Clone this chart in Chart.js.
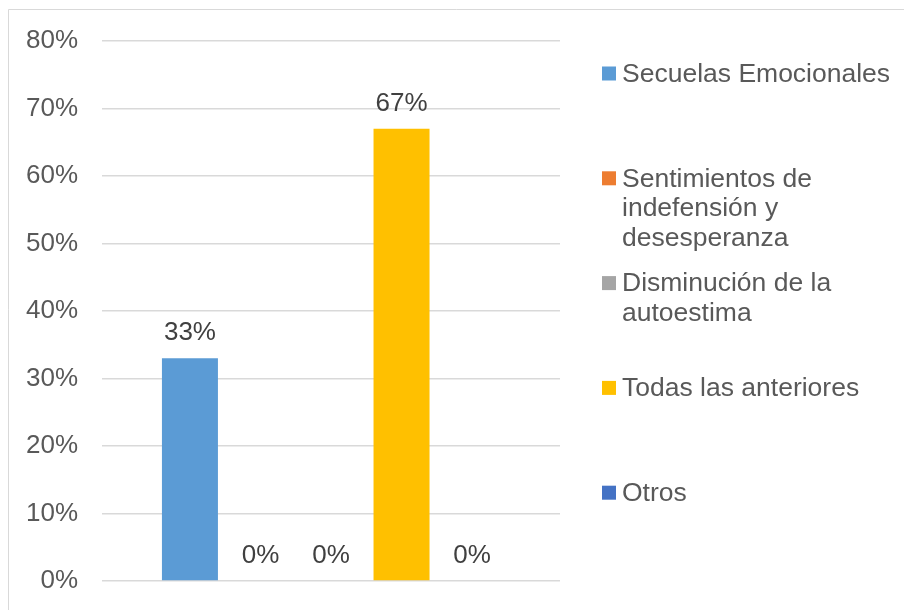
<!DOCTYPE html>
<html>
<head>
<meta charset="utf-8">
<script src="https://cdn.jsdelivr.net/npm/chart.js@4/dist/chart.umd.min.js"></script>
<style>
html,body{margin:0;padding:0;background:#fff;overflow:hidden;}
canvas{display:block;}
</style>
</head>
<body>
<canvas id="c" width="904" height="610"></canvas>
<script>
const categories = [""];
const seriesNames = ["Secuelas Emocionales", "Sentimientos de indefensión y desesperanza", "Disminución de la autoestima", "Todas las anteriores", "Otros"];
const legendLines = [["Secuelas Emocionales"], ["Sentimientos de", "indefensión y", "desesperanza"], ["Disminución de la", "autoestima"], ["Todas las anteriores"], ["Otros"]];
const seriesValues = [33, 0, 0, 67, 0];
const seriesColors = ["#5B9BD5", "#ED7D31", "#A5A5A5", "#FFC000", "#4472C4"];
const yTicks = [0, 10, 20, 30, 40, 50, 60, 70, 80];

const FONT = "'Liberation Sans', Arial, sans-serif";

const frame = {
  id: 'frame',
  beforeDraw(chart) {
    const ctx = chart.ctx;
    ctx.save();
    ctx.fillStyle = '#fff';
    ctx.fillRect(0, 0, chart.width, chart.height);
    ctx.strokeStyle = '#d9d9d9';
    ctx.lineWidth = 1;
    ctx.beginPath();
    ctx.moveTo(8.5, chart.height);
    ctx.lineTo(8.5, 9.5);
    ctx.lineTo(chart.width, 9.5);
    ctx.stroke();
    ctx.restore();
  }
};

const valueLabels = {
  id: 'valueLabels',
  afterDatasetsDraw(chart) {
    const ctx = chart.ctx;
    ctx.save();
    ctx.font = "26px " + FONT;
    ctx.fillStyle = '#404040';
    ctx.textAlign = 'center';
    ctx.textBaseline = 'middle';
    chart.data.datasets.forEach((ds, i) => {
      const meta = chart.getDatasetMeta(i);
      meta.data.forEach((bar, j) => {
        ctx.fillText(ds.data[j] + '%', bar.x, bar.y - 25);
      });
    });
    ctx.restore();
  }
};

const customLegend = {
  id: 'customLegend',
  afterDraw(chart) {
    const ctx = chart.ctx;
    ctx.save();
    ctx.font = "26.5px " + FONT;
    ctx.textBaseline = 'middle';
    ctx.textAlign = 'left';
    const x0 = 602, step = 104.8, y0 = 73.5, lh = 29.5;
    chart.data.datasets.forEach((ds, i) => {
      const y = y0 + i * step;
      ctx.fillStyle = ds.backgroundColor;
      ctx.fillRect(x0, y - 7, 14, 14);
      ctx.fillStyle = '#595959';
      legendLines[i].forEach((line, k) => {
        ctx.fillText(line, x0 + 20, y + 1 + k * lh);
      });
    });
    ctx.restore();
  }
};

new Chart(document.getElementById('c'), {
  type: 'bar',
  data: {
    labels: categories,
    datasets: seriesNames.map((name, i) => ({
      label: name,
      data: [seriesValues[i]],
      backgroundColor: seriesColors[i],
      borderWidth: 0,
      categoryPercentage: 0.77,
      barPercentage: 0.794
    }))
  },
  options: {
    responsive: false,
    maintainAspectRatio: false,
    animation: false,
    devicePixelRatio: 1,
    layout: { padding: { left: 0, top: 41, right: 344, bottom: 29 } },
    plugins: { legend: { display: false }, tooltip: { enabled: false } },
    scales: {
      x: { display: false },
      y: {
        min: 0, max: 80,
        afterFit(scale) { scale.width = 102; scale.paddingTop = 0; scale.paddingBottom = 0; },
        afterBuildTicks(scale) { scale.ticks = yTicks.map(v => ({ value: v })); },
        ticks: {
          padding: 24,
          color: '#595959',
          font: { family: FONT, size: 26 },
          callback: v => v + '%'
        },
        grid: { color: '#d9d9d9', lineWidth: 1.5, drawTicks: false },
        border: { display: false }
      }
    }
  },
  plugins: [frame, valueLabels, customLegend]
});
</script>
</body>
</html>
